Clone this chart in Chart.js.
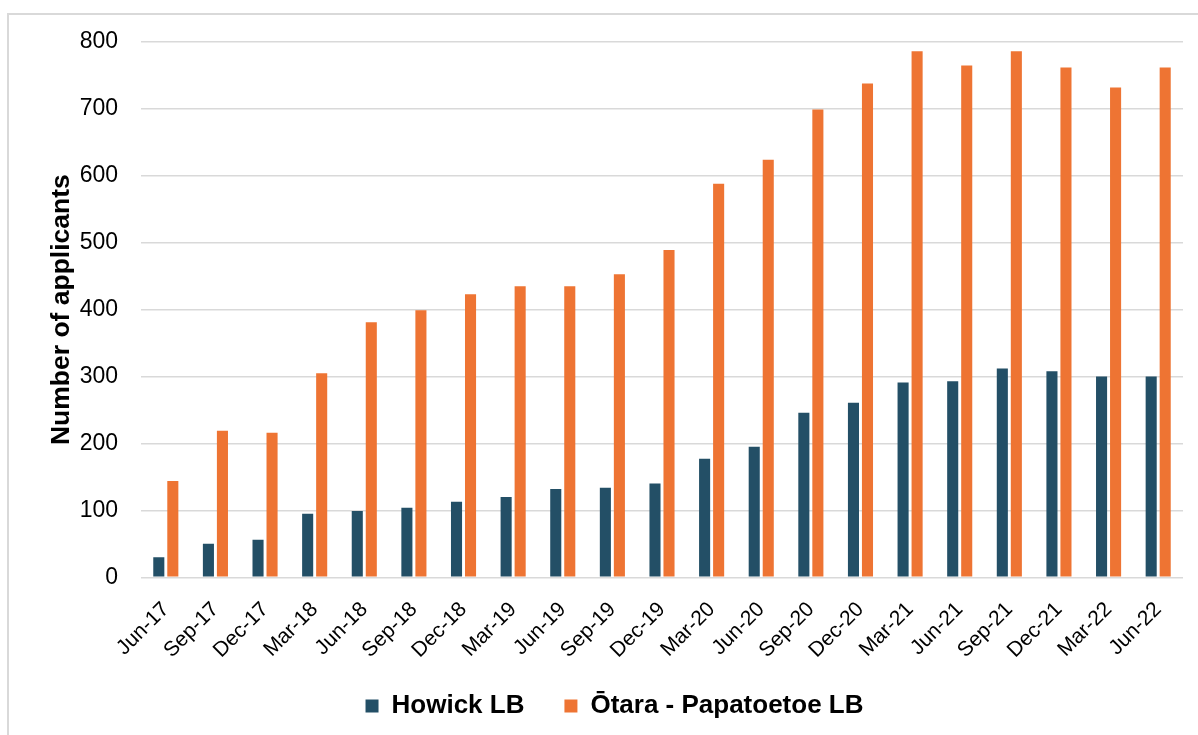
<!DOCTYPE html>
<html>
<head>
<meta charset="utf-8">
<script src="https://cdn.jsdelivr.net/npm/chart.js@4.4.0/dist/chart.umd.min.js"></script>
<style>
  html, body { margin: 0; padding: 0; background: #fff; overflow: hidden; }
  #wrap { position: relative; width: 1198px; height: 735px; }
  #frame { position: absolute; left: 7px; top: 13px; width: 1300px; height: 900px;
           border-left: 2px solid #d9d9d9; border-top: 2px solid #d9d9d9; box-sizing: border-box; }
  #myChart { position: absolute; left: 0; top: 0; }
</style>
</head>
<body>
<div id="wrap">
  <div id="frame"></div>
  <canvas id="myChart" width="1198" height="735"></canvas>
</div>
<script>
const quarters = ['Jun-17', 'Sep-17', 'Dec-17', 'Mar-18', 'Jun-18', 'Sep-18', 'Dec-18',
  'Mar-19', 'Jun-19', 'Sep-19', 'Dec-19', 'Mar-20', 'Jun-20', 'Sep-20', 'Dec-20',
  'Mar-21', 'Jun-21', 'Sep-21', 'Dec-21', 'Mar-22', 'Jun-22'];
const howick = [30, 50, 56, 95, 99, 104, 113, 120, 132, 134, 140, 177, 195, 246, 261, 291, 293, 312, 308, 300, 300];
const otara = [144, 219, 216, 305, 381, 399, 423, 435, 435, 453, 489, 588, 624, 699, 738, 786, 765, 786, 762, 732, 762];
const yTicks = [0, 100, 200, 300, 400, 500, 600, 700, 800];

var ctx = document.getElementById('myChart');
var font = "'Liberation Sans', Arial, sans-serif";

// x labels overlap the legend's top padding, so don't clip them to the shrunk axis box
const unclipLabels = {
  id: 'unclipLabels',
  afterLayout: function (chart) {
    chart.scales.x.bottom += 40;
  }
};

var myChart = new Chart(ctx, {
  type: 'bar',
  data: {
    labels: quarters,
    datasets: [{
      label: 'Howick LB',
      data: howick,
      backgroundColor: '#234F66',
      categoryPercentage: 0.565,
      barPercentage: 0.79
    }, {
      label: 'Ōtara - Papatoetoe LB',
      data: otara,
      backgroundColor: '#EE7433',
      categoryPercentage: 0.565,
      barPercentage: 0.79
    }]
  },
  plugins: [unclipLabels],
  options: {
    responsive: false,
    animation: false,
    layout: { padding: { left: 46, right: 15, top: 42, bottom: 6 } },
    plugins: {
      tooltip: { enabled: false },
      legend: {
        position: 'bottom',
        labels: {
          boxWidth: 13,
          boxHeight: 13,
          padding: 40,
          color: '#000',
          font: { family: font, size: 26, weight: 'bold' }
        }
      }
    },
    scales: {
      x: {
        grid: { display: false },
        border: { display: false },
        afterFit: function (scale) {
          scale.height = scale.height - 22;
        },
        ticks: {
          color: '#000',
          maxRotation: 45,
          minRotation: 45,
          autoSkip: false,
          padding: 12,
          font: { family: font, size: 21 }
        }
      },
      y: {
        min: 0,
        max: 800,
        afterBuildTicks: function (axis) {
          axis.ticks = yTicks.map(v => ({ value: v }));
        },
        afterFit: function (scale) {
          scale.width = 95;
        },
        grid: { color: '#d9d9d9', lineWidth: 1.5, drawTicks: false },
        border: { display: false },
        ticks: {
          color: '#000',
          padding: 23,
          font: { family: font, size: 23 }
        },
        title: {
          display: true,
          text: 'Number of applicants',
          color: '#000',
          padding: 0,
          font: { family: font, size: 26.5, weight: 'bold' }
        }
      }
    }
  }
});
</script>
</body>
</html>
